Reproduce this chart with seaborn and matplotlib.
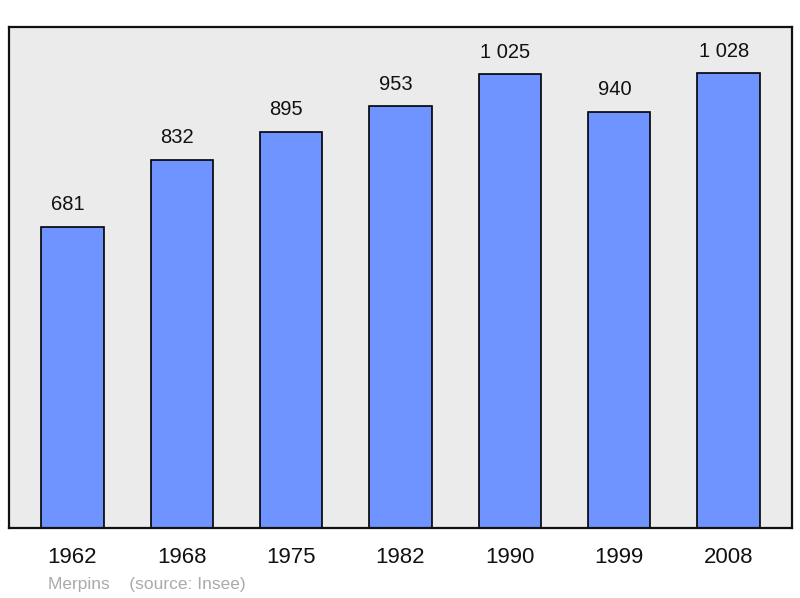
import matplotlib
matplotlib.use("Agg")
import matplotlib.pyplot as plt
import seaborn as sns
import pandas as pd

years = ["1962", "1968", "1975", "1982", "1990", "1999", "2008"]
population = [681, 832, 895, 953, 1025, 940, 1028]
value_labels = ["681", "832", "895", "953", "1 025", "940", "1 028"]

sns.set_style("white")
plt.rcParams["font.family"] = ["Liberation Sans", "DejaVu Sans"]

df = pd.DataFrame({"year": years, "pop": population})

fig = plt.figure(figsize=(8, 5.98), dpi=100)
ax = fig.add_axes([9 / 800, 1 - 528 / 598, 783 / 800, 501 / 598])
ax.set_facecolor("#ebebeb")

sns.barplot(data=df, x="year", y="pop", color="#7094ff", saturation=1,
            width=0.57, edgecolor="black", linewidth=1.2, ax=ax)

# labels sit a touch left of the bar centres in the original
for i, (v, lab) in enumerate(zip(population, value_labels)):
    ax.annotate(lab, (i, v), xytext=(-3.5, 9), textcoords="offset points",
                ha="center", va="bottom", fontsize=14.5, color="#111111")

ax.set_xlim(-0.58, 6.58)
ax.set_ylim(0, 1132)
ax.set_yticks([])
ax.set_xlabel("")
ax.set_ylabel("")
ax.tick_params(axis="x", length=0, pad=14, labelsize=16, labelcolor="#111111")
for s in ax.spines.values():
    s.set_visible(True)
    s.set_linewidth(1.6)
    s.set_color("#111111")

fig.text(48 / 800, 1 - 584 / 598, "Merpins    (source: Insee)",
         fontsize=12.5, color="#aaaaaa", va="center", ha="left")

fig.savefig("out.png", dpi=100)
